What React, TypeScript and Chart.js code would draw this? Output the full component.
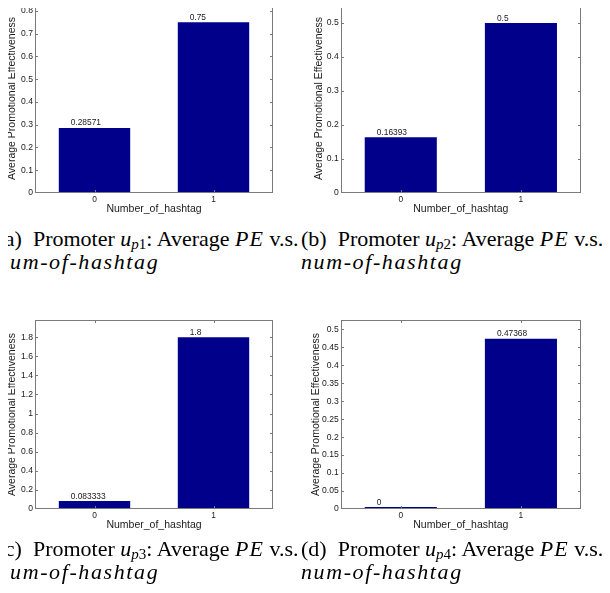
import { useEffect, useRef } from "react";
import { Chart, registerables } from "chart.js";

Chart.register(...registerables);

// Number of hashtags (x categories) and average promotional effectiveness per promoter
const categories = ["0", "1"];
const promoter1 = [0.28571, 0.75];
const promoter2 = [0.16393, 0.5];
const promoter3 = [0.083333, 1.8];
const promoter4 = [0, 0.47368];

// y-axis upper limits and tick values per panel
const yMax1 = 0.83;
const yTicks1 = [0, 0.1, 0.2, 0.3, 0.4, 0.5, 0.6, 0.7, 0.8];
const yMax2 = 0.556;
const yTicks2 = [0, 0.1, 0.2, 0.3, 0.4, 0.5];
const yMax3 = 1.98;
const yTicks3 = [0, 0.2, 0.4, 0.6, 0.8, 1, 1.2, 1.4, 1.6, 1.8];
const yMax4 = 0.526;
const yTicks4 = [0, 0.05, 0.1, 0.15, 0.2, 0.25, 0.3, 0.35, 0.4, 0.45, 0.5];

const xTitle = "Number_of_hashtag";
const yTitle = "Average Promotional Effectiveness";

const SANS = "'Liberation Sans', Arial, sans-serif";
const SERIF = "'Liberation Serif', 'Times New Roman', serif";
const BAR_COLOR = "#00008b";
const FRAME_COLOR = "#7a7a7a";
const TEXT_COLOR = "#1a1a1a";

// Draws the boxed frame with inward tick marks on all four sides, and the value labels
const frameAndLabels = {
  id: "frameAndLabels",
  afterDatasetsDraw(chart: any) {
    const { ctx, chartArea } = chart;
    const { left, right, top, bottom } = chartArea;
    const xs = chart.scales.x;
    const ys = chart.scales.y;
    const tl = 2.5;
    ctx.save();
    ctx.strokeStyle = FRAME_COLOR;
    ctx.lineWidth = 1;
    const L = Math.round(left) + 0.5;
    const R = Math.round(right) - 0.5;
    const T = Math.round(top) + 0.5;
    const B = Math.round(bottom) - 0.5;
    ctx.strokeRect(L, T, R - L, B - T);
    ctx.beginPath();
    ys.ticks.forEach((t: any) => {
      if (t.value <= 0) return;
      const y = Math.round(ys.getPixelForValue(t.value)) + 0.5;
      ctx.moveTo(L, y);
      ctx.lineTo(L + tl, y);
      ctx.moveTo(R, y);
      ctx.lineTo(R - tl, y);
    });
    categories.forEach((_, i) => {
      const x = Math.round(xs.getPixelForValue(i)) + 0.5;
      ctx.moveTo(x, B);
      ctx.lineTo(x, B - tl);
      ctx.moveTo(x, T);
      ctx.lineTo(x, T + tl);
    });
    ctx.stroke();

    // value labels above each bar
    const meta = chart.getDatasetMeta(0);
    const data = chart.data.datasets[0].data as number[];
    ctx.fillStyle = TEXT_COLOR;
    ctx.font = `8.4px ${SANS}`;
    ctx.textAlign = "left";
    ctx.textBaseline = "alphabetic";
    meta.data.forEach((bar: any, i: number) => {
      const x = xs.getPixelForValue(i - 0.2);
      ctx.fillText(String(data[i]), x, bar.y - 2.5);
    });
    ctx.restore();
  },
};

type PanelProps = {
  values: number[];
  yMax: number;
  yTicks: number[];
  x: number;
  y: number;
  w: number;
  h: number;
  boxLeft: number;
  boxRight: number;
  titleCenterX: number;
};

function Panel(p: PanelProps) {
  const ref = useRef<HTMLCanvasElement>(null);
  useEffect(() => {
    if (!ref.current) return;
    const boxTop = 4;
    const boxBottom = 193;
    const xHeight = 25;
    const chart = new Chart(ref.current, {
      type: "bar",
      data: {
        labels: categories,
        datasets: [
          {
            data: p.values,
            backgroundColor: BAR_COLOR,
            borderWidth: 0,
            barPercentage: 0.6,
            categoryPercentage: 1,
            minBarLength: 2,
          },
        ],
      },
      options: {
        responsive: false,
        animation: false,
        devicePixelRatio: 1,
        layout: {
          padding: {
            left: 0,
            top: boxTop,
            right: p.w - p.boxRight,
            bottom: p.h - boxBottom - xHeight,
          },
        },
        plugins: {
          legend: { display: false },
          tooltip: { enabled: false },
        },
        scales: {
          x: {
            offset: true,
            grid: { display: false, drawTicks: false },
            border: { display: false },
            ticks: {
              color: TEXT_COLOR,
              padding: 2,
              font: { family: SANS, size: 8.4 },
            },
            title: {
              display: true,
              text: xTitle,
              color: TEXT_COLOR,
              padding: { top: 0, bottom: 2.7 },
              font: { family: SANS, size: 10.5 },
            },
            afterFit(scale: any) {
              scale.height = xHeight;
              scale.paddingLeft = 0;
              scale.paddingRight = 0;
            },
          },
          y: {
            min: 0,
            max: p.yMax,
            grid: { display: false, drawTicks: false },
            border: { display: false },
            afterBuildTicks(scale: any) {
              scale.ticks = p.yTicks.map((v) => ({ value: v }));
            },
            ticks: {
              color: TEXT_COLOR,
              padding: 2,
              font: { family: SANS, size: 8.6 },
              callback: (v: any) => String(v),
            },
            title: {
              display: true,
              text: yTitle,
              color: TEXT_COLOR,
              padding: { top: p.titleCenterX - 6.3, bottom: 0 },
              font: { family: SANS, size: 10.5 },
            },
            afterFit(scale: any) {
              scale.width = p.boxLeft;
              scale.paddingTop = 0;
              scale.paddingBottom = 0;
            },
          },
        },
      },
      plugins: [frameAndLabels],
    });
    return () => chart.destroy();
  }, []);
  return (
    <canvas
      ref={ref}
      width={p.w}
      height={p.h}
      style={{ position: "absolute", left: p.x, top: p.y, width: p.w, height: p.h }}
    />
  );
}

function Caption(props: { x: number; baseline: number; tag: string; idx: string }) {
  const lineStyle: React.CSSProperties = {
    position: "absolute",
    left: props.x,
    whiteSpace: "nowrap",
    fontFamily: SERIF,
    fontSize: 22,
    lineHeight: "22px",
    height: 22,
    color: "#000",
  };
  return (
    <>
      <div style={{ ...lineStyle, top: props.baseline - 18.4 }}>
        ({props.tag})&nbsp;&nbsp;Promoter <i>u</i>
        <sub style={{ fontSize: 15, verticalAlign: "-3px", lineHeight: 0 }}>
          <i>p</i>
          {props.idx}
        </sub>
        : Average <i style={{ letterSpacing: "1px" }}>PE</i> v.s.
      </div>
      <div style={{ ...lineStyle, top: props.baseline + 23 - 18.4 }}>
        <i style={{ letterSpacing: "1.6px" }}>num-of-hashtag</i>
      </div>
    </>
  );
}

export default function App() {
  return (
    <div
      style={{
        position: "relative",
        width: 610,
        height: 593,
        margin: -8,
        overflow: "hidden",
        background: "#fff",
      }}
    >
      <Panel values={promoter1} yMax={yMax1} yTicks={yTicks1} x={0} y={0} w={300} h={222} boxLeft={35} boxRight={273} titleCenterX={12.5} />
      <Panel values={promoter2} yMax={yMax2} yTicks={yTicks2} x={300} y={0} w={310} h={222} boxLeft={40.7} boxRight={281} titleCenterX={19} />
      <Panel values={promoter3} yMax={yMax3} yTicks={yTicks3} x={0} y={316} w={300} h={222} boxLeft={35} boxRight={273} titleCenterX={12.5} />
      <Panel values={promoter4} yMax={yMax4} yTicks={yTicks4} x={300} y={316} w={310} h={222} boxLeft={40.7} boxRight={281} titleCenterX={16} />
      <Caption x={-2.5} baseline={246} tag="a" idx="1" />
      <Caption x={301} baseline={246} tag="b" idx="2" />
      <Caption x={-2.5} baseline={556} tag="c" idx="3" />
      <Caption x={301} baseline={556} tag="d" idx="4" />
    </div>
  );
}
